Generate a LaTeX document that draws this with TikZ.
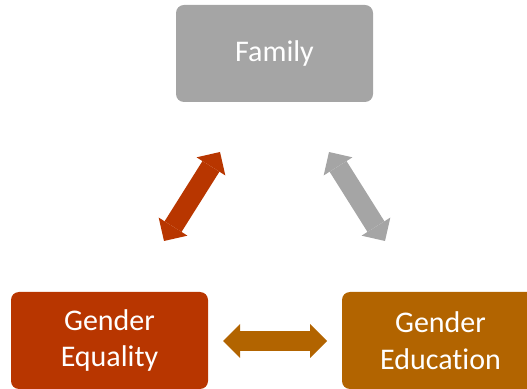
\documentclass[tikz,border=0pt]{standalone}
\usepackage{fontspec}
\setmainfont{Carlito}[Ligatures=NoCommon]
\usetikzlibrary{arrows.meta}
\definecolor{famgray}{RGB}{165,165,165}
\definecolor{eqred}{RGB}{184,54,0}
\definecolor{edubrown}{RGB}{178,100,0}

\begin{document}
\begin{tikzpicture}[x=1pt, y=1pt,
    box/.style={rounded corners=8pt, minimum width=197pt, minimum height=97pt, inner sep=0pt,
      text=white, align=center, font=\fontsize{30}{36.6}\selectfont},
    link/.style={line width=20pt,
      {Triangle[length=17pt, width=34pt, line width=0pt]}-{Triangle[length=17pt, width=34pt, line width=0pt]}}]
    \useasboundingbox (0,0) rectangle (527,388);
    \clip (0,0) rectangle (527,388);

    \node[box, fill=famgray] (Family) at (274.5,334.5) {Family};
    \node[box, fill=eqred] (Equality) at (109.5,47.5) {Gender\\Equality};
    \node[box, fill=edubrown] (Education) at (440.5,47.5) {Gender\\Education};

    \coordinate (EqTip) at (164,147);
    \coordinate (FamLeftTip) at (220,236);
    \coordinate (EduTip) at (385,147);
    \coordinate (FamRightTip) at (329,236);
    \coordinate (EqRightTip) at (223,47);
    \coordinate (EduLeftTip) at (327,47);

    \draw[link, eqred] (EqTip) -- (FamLeftTip);
    \draw[link, famgray] (EduTip) -- (FamRightTip);
    \draw[link, edubrown] (EqRightTip) -- (EduLeftTip);
  \end{tikzpicture}
\end{document}
